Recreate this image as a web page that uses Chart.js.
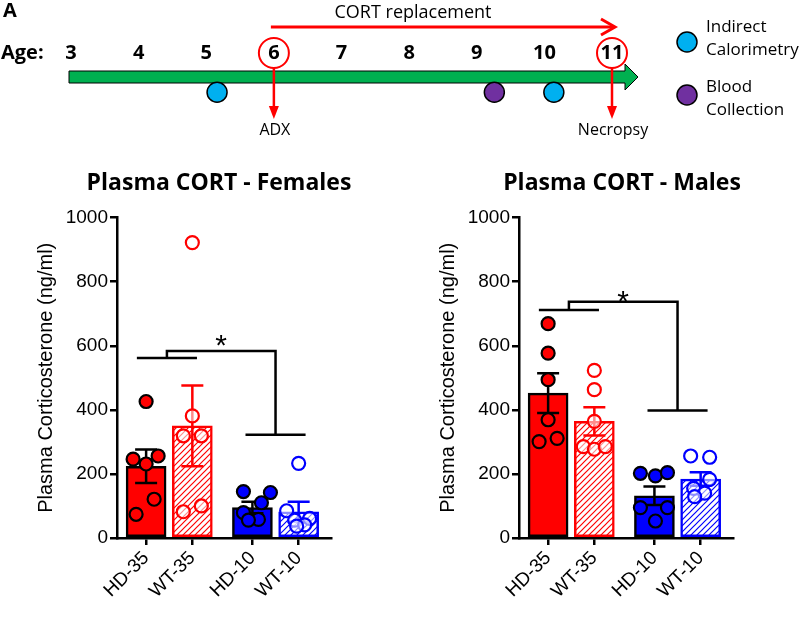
<!DOCTYPE html>
<html>
<head>
<meta charset="utf-8">
<script src="https://cdn.jsdelivr.net/npm/chart.js@4.4.0/dist/chart.umd.min.js"></script>
<style>
  body { margin: 0; background: #fff; overflow: hidden; }
  .box { position: absolute; }
</style>
</head>
<body>
<div class="box" style="left:0;top:0;width:800px;height:145px"><canvas id="timeline"></canvas></div>
<div class="box" style="left:0;top:160px;width:438px;height:457px"><canvas id="females"></canvas></div>
<div class="box" style="left:436px;top:160px;width:372px;height:457px"><canvas id="males"></canvas></div>
<script>
// ---- timeline data (age in weeks)
const ages = [3, 4, 5, 6, 7, 8, 9, 10, 11];
const calorimetryAges = [5.16, 10.14];
const bloodAges = [9.26];
const adxAge = 6;
const necropsyAge = 11;

// ---- plasma CORT data (ng/ml)
const groups = ['HD-35', 'WT-35', 'HD-10', 'WT-10'];
const femaleMeans = [224, 350, 95, 82];
const femaleSem = [52, 126, 18, 31];
const femaleHD35 = [426, 256, 246, 231, 121, 74];
const femaleWT35 = [922, 381, 319, 319, 100, 82];
const femaleHD10 = [145, 142, 110, 79, 58, 56];
const femaleWT10 = [233, 85, 61, 56, 41, 37];
const maleMeans = [452, 364, 132, 184];
const maleSem = [62, 44, 29, 21];
const maleHD35 = [669, 577, 494, 369, 311, 301];
const maleWT35 = [523, 463, 364, 285, 277, 285];
const maleHD10 = [202, 194, 204, 95, 95, 53];
const maleWT10 = [256, 252, 183, 155, 140, 129];
const yTicks = [0, 200, 400, 600, 800, 1000];

// layout of the bar charts
const groupX = [0, 1, 2.3, 3.3];
const PX = 46.2; // px per x unit
const femaleJitter = [[0, 12, -13, 0, 8, -10], [0, 0, -9, 9, 9, -9], [-9, 18, 9, -9, 6, -4], [0, -12, 11, -4, 6, -2]];
const maleJitter = [[0, 0, 0, 0, 9, -9], [0, 0, 0, -11, 0, 11], [-14, 1, 13, -14, 13, 1], [-10, 9, 9, -7, 4, -6]];
const femaleBracket = { left: 562, top: 584, right: 322, star: 625 };
const maleBracket = { left: 712, top: 737, right: 398, star: 762 };

const RED = '#ff0000', BLUE = '#0000ff';
const groupColor = [RED, RED, BLUE, BLUE];
const hatched = [false, true, false, true];
const SANS = "'Liberation Sans', Arial, sans-serif";
const CAL = "'Open Sans', sans-serif";

function hatch(color) {
  const c = document.createElement('canvas');
  c.width = c.height = 6;
  const g = c.getContext('2d');
  g.fillStyle = '#fff';
  g.fillRect(0, 0, 6, 6);
  g.strokeStyle = color;
  g.lineWidth = 1.2;
  g.beginPath();
  g.moveTo(0, 6); g.lineTo(6, 0);
  g.moveTo(-1, 1); g.lineTo(1, -1);
  g.moveTo(5, 7); g.lineTo(7, 5);
  g.stroke();
  return g.createPattern(c, 'repeat');
}

// ---------- timeline ----------
const timelinePlugin = {
  id: 'timeline',
  beforeDatasetsDraw(chart) {
    const ctx = chart.ctx, xs = v => chart.scales.x.getPixelForValue(v);
    const x0 = xs(ages[0]) - 2, xe = 625;
    ctx.save();
    ctx.beginPath();
    ctx.moveTo(x0, 71); ctx.lineTo(xe, 71); ctx.lineTo(xe, 64);
    ctx.lineTo(xe + 13, 77); ctx.lineTo(xe, 90); ctx.lineTo(xe, 83);
    ctx.lineTo(x0, 83); ctx.closePath();
    ctx.fillStyle = '#00b050'; ctx.fill();
    ctx.strokeStyle = '#000'; ctx.lineWidth = 1; ctx.stroke();
    ctx.restore();
  },
  afterDatasetsDraw(chart) {
    const ctx = chart.ctx, xs = v => chart.scales.x.getPixelForValue(v);
    ctx.save();
    ctx.fillStyle = '#000';
    ctx.textBaseline = 'middle';
    ctx.font = "bold 20px " + CAL;
    ctx.textAlign = 'left';
    ctx.fillText('A', 3, 11);
    ctx.fillText('Age:', 1, 53);
    ctx.textAlign = 'center';
    ages.forEach(a => ctx.fillText(String(a), xs(a), 53));

    ctx.strokeStyle = RED; ctx.fillStyle = RED;
    // circles round ADX and necropsy ages
    ctx.lineWidth = 2;
    [adxAge, necropsyAge].forEach(a => {
      ctx.beginPath(); ctx.arc(xs(a), 53, 15, 0, Math.PI * 2); ctx.stroke();
    });
    // CORT replacement arrow
    const xa = xs(adxAge), xn = xs(necropsyAge);
    ctx.lineWidth = 3;
    ctx.beginPath(); ctx.moveTo(xa - 3, 27); ctx.lineTo(xn + 2, 27); ctx.stroke();
    ctx.beginPath(); ctx.moveTo(xn - 11, 19); ctx.lineTo(xn + 3, 27); ctx.lineTo(xn - 11, 35); ctx.stroke();
    // down arrows
    ctx.lineWidth = 2.5;
    [xa, xn].forEach(x => {
      ctx.beginPath(); ctx.moveTo(x, 68); ctx.lineTo(x, 108); ctx.stroke();
      ctx.beginPath(); ctx.moveTo(x - 5, 106); ctx.lineTo(x + 5, 106); ctx.lineTo(x, 119); ctx.closePath(); ctx.fill();
    });
    ctx.fillStyle = '#000';
    ctx.font = "18px " + CAL;
    ctx.fillText('CORT replacement', 413, 13);
    ctx.font = "16px " + CAL;
    ctx.fillText('ADX', xa + 1, 130);
    ctx.fillText('Necropsy', xn + 1, 130);

    // legend
    const ds = chart.data.datasets;
    const items = [[42, ds[0], ['Indirect', 'Calorimetry'], 27], [95, ds[1], ['Blood', 'Collection'], 87]];
    ctx.textAlign = 'left';
    ctx.font = "17px " + CAL;
    items.forEach(([y, d, lines, ty]) => {
      ctx.beginPath(); ctx.arc(687, y, 10, 0, Math.PI * 2);
      ctx.fillStyle = d.backgroundColor; ctx.fill();
      ctx.strokeStyle = '#000'; ctx.lineWidth = 1.5; ctx.stroke();
      ctx.fillStyle = '#000';
      lines.forEach((t, k) => ctx.fillText(t, 706, ty + k * 23));
    });
    ctx.restore();
  }
};

const EVENT_ROW = 96;
new Chart(document.getElementById('timeline'), {
  type: 'scatter',
  data: {
    datasets: [
      { label: 'Indirect Calorimetry', data: calorimetryAges.map(a => ({ x: a, y: EVENT_ROW })),
        backgroundColor: '#00b0f0', borderColor: '#000', borderWidth: 1.5, pointRadius: 10 },
      { label: 'Blood Collection', data: bloodAges.map(a => ({ x: a, y: EVENT_ROW })),
        backgroundColor: '#7030a0', borderColor: '#000', borderWidth: 1.5, pointRadius: 10 }
    ]
  },
  options: {
    responsive: true, maintainAspectRatio: false, animation: false,
    layout: { padding: { left: 71, right: 188, top: 0, bottom: 0 } },
    scales: {
      x: { type: 'linear', min: 3, max: 11, display: false },
      y: { min: 0, max: 145, reverse: true, display: false }
    },
    plugins: { legend: { display: false }, tooltip: { enabled: false } }
  },
  plugins: [timelinePlugin]
});

// ---------- bar charts ----------
const errorBars = {
  id: 'errorBars',
  afterDatasetDraw(chart, args, opts) {
    if (args.index !== 0) return;
    const ctx = chart.ctx, xs = chart.scales.x, ys = chart.scales.y;
    ctx.save();
    ctx.lineWidth = 2.5;
    opts.means.forEach((m, i) => {
      const x = xs.getPixelForValue(groupX[i]);
      const yt = ys.getPixelForValue(m + opts.sem[i]);
      const yb = ys.getPixelForValue(m - opts.sem[i]);
      ctx.strokeStyle = hatched[i] ? groupColor[i] : '#000';
      ctx.beginPath();
      ctx.moveTo(x, yt); ctx.lineTo(x, yb);
      ctx.moveTo(x - 11, yt); ctx.lineTo(x + 11, yt);
      ctx.moveTo(x - 11, yb); ctx.lineTo(x + 11, yb);
      ctx.stroke();
    });
    ctx.restore();
  }
};

const bracket = {
  id: 'bracket',
  afterDatasetsDraw(chart, args, b) {
    const ctx = chart.ctx, X = v => chart.scales.x.getPixelForValue(v), Y = v => chart.scales.y.getPixelForValue(v);
    ctx.save();
    ctx.strokeStyle = '#000'; ctx.lineWidth = 2.5;
    ctx.beginPath();
    ctx.moveTo(X(-0.2), Y(b.left)); ctx.lineTo(X(1.1), Y(b.left));
    ctx.moveTo(X(0.45), Y(b.left)); ctx.lineTo(X(0.45), Y(b.top)); ctx.lineTo(X(2.8), Y(b.top)); ctx.lineTo(X(2.8), Y(b.right));
    ctx.moveTo(X(2.15), Y(b.right)); ctx.lineTo(X(3.45), Y(b.right));
    ctx.stroke();
    ctx.fillStyle = '#000';
    ctx.font = "30px " + SANS;
    ctx.textAlign = 'center';
    ctx.textBaseline = 'alphabetic';
    ctx.fillText('*', X(1.62), Y(b.star) + 17);
    ctx.restore();
  }
};

// yWidth: left axis box, rightWidth: empty box on the right so the title sits over the plot
function barChart(id, title, means, sem, pts, jitter, br, yWidth, rightWidth, yTitlePad) {
  const pointSets = pts.map((vals, i) => ({
    type: 'scatter',
    label: groups[i],
    data: vals.map((v, j) => ({ x: groupX[i] + jitter[i][j] / PX, y: v })),
    pointRadius: 6.5,
    pointBorderWidth: 2.2,
    backgroundColor: hatched[i] ? 'rgba(255,255,255,0.55)' : groupColor[i],
    borderColor: hatched[i] ? groupColor[i] : '#000',
    order: 1
  }));
  return new Chart(document.getElementById(id), {
    type: 'bar',
    data: {
      datasets: [{
        type: 'bar',
        label: 'mean',
        data: means.map((m, i) => ({ x: groupX[i], y: m })),
        backgroundColor: groupColor.map((c, i) => hatched[i] ? hatch(c) : c),
        borderColor: groupColor.map((c, i) => hatched[i] ? c : '#000'),
        borderWidth: 2.5,
        borderSkipped: false,
        barThickness: 40,
        order: 3
      }].concat(pointSets)
    },
    options: {
      responsive: true, maintainAspectRatio: false, animation: false,
      layout: { padding: 0 },
      scales: {
        x: {
          type: 'linear', min: -0.63, max: 4.0, offset: false,
          afterBuildTicks: s => { s.ticks = groupX.map(v => ({ value: v })); },
          afterFit: s => { s.height = 79; },
          ticks: { autoSkip: false, minRotation: 45, maxRotation: 45, padding: 2, color: '#000',
                   font: { family: SANS, size: 19 }, callback: (v, i) => groups[i] },
          grid: { display: true, offset: false, drawOnChartArea: false, drawTicks: true, tickLength: 7, color: '#000', lineWidth: 2.5 },
          border: { display: true, color: '#000', width: 2.5 }
        },
        y: {
          min: 0, max: 1000,
          afterBuildTicks: s => { s.ticks = yTicks.map(v => ({ value: v })); },
          afterFit: s => { s.width = yWidth; },
          ticks: { padding: 2, color: '#000', font: { family: SANS, size: 19 }, callback: v => String(v) },
          title: { display: true, text: 'Plasma Corticosterone (ng/ml)', color: '#000',
                   font: { family: SANS, size: 20 }, padding: { top: yTitlePad, bottom: 0 } },
          grid: { display: true, drawOnChartArea: false, drawTicks: true, tickLength: 7, color: '#000', lineWidth: 2.5 },
          border: { display: true, color: '#000', width: 2.5 }
        },
        spacer: {
          position: 'right', min: 0, max: 1,
          afterFit: s => { s.width = rightWidth; },
          ticks: { display: false }, grid: { display: false }, border: { display: false }
        }
      },
      plugins: {
        legend: { display: false },
        tooltip: { enabled: false },
        title: { display: true, text: title, color: '#000',
                 font: { family: CAL, size: 23, weight: 'bold' }, padding: { top: 10, bottom: 20 } },
        errorBars: { means: means, sem: sem },
        bracket: br
      }
    },
    plugins: [errorBars, bracket]
  });
}

barChart('females', 'Plasma CORT - Females', femaleMeans, femaleSem,
  [femaleHD35, femaleWT35, femaleHD10, femaleWT10], femaleJitter, femaleBracket, 117, 107, 34);
barChart('males', 'Plasma CORT - Males', maleMeans, maleSem,
  [maleHD35, maleWT35, maleHD10, maleWT10], maleJitter, maleBracket, 83, 75, 0);
</script>
</body>
</html>
